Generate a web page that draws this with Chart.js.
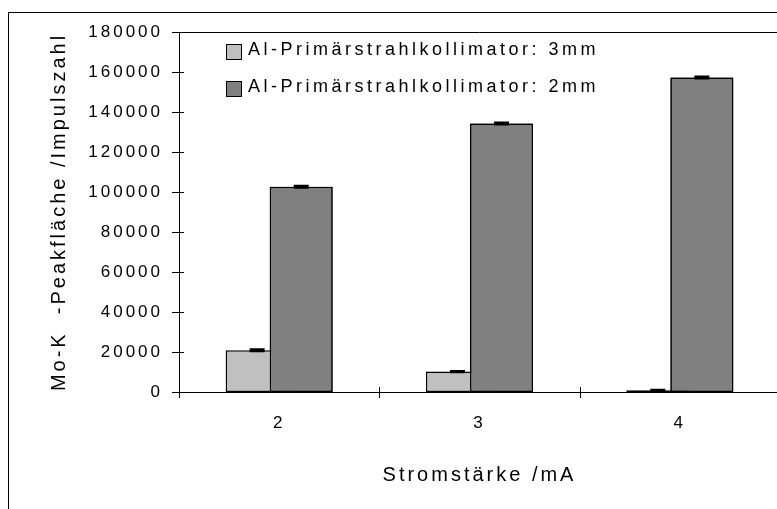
<!DOCTYPE html>
<html>
<head>
<meta charset="utf-8">
<script src="https://cdn.jsdelivr.net/npm/chart.js@4/dist/chart.umd.min.js"></script>
<style>
  html, body { margin: 0; padding: 0; background: #fff; overflow: hidden; }
  #wrap { width: 790px; height: 509px; }
</style>
</head>
<body>
<div id="wrap"><canvas id="c" width="790" height="509"></canvas></div>
<script>
// ---- data ----
const categories = ['2', '3', '4'];
const seriesLabels = ['Al-Primärstrahlkollimator: 3mm', 'Al-Primärstrahlkollimator: 2mm'];
const values3mm = [20900, 10200, 900];
const values2mm = [102600, 134300, 157300];
const errors3mm = [500, 300, 200];
const errors2mm = [500, 500, 500];
const yTicks = [0, 20000, 40000, 60000, 80000, 100000, 120000, 140000, 160000, 180000];
const xTitle = 'Stromstärke /mA';
const yTitle = 'Mo-K  -Peakfläche /Impulszahl';

const FONT = '"Liberation Sans", Arial, sans-serif';
const errorsByDataset = [errors3mm, errors2mm];

const framePlugin = {
  id: 'frame',
  beforeDraw(chart) {
    const ctx = chart.ctx;
    ctx.letterSpacing = '3px';
    // outer chart border
    ctx.save();
    ctx.strokeStyle = '#000';
    ctx.lineWidth = 1;
    ctx.strokeRect(8.5, 12.5, chart.width + 20, chart.height + 20);
    ctx.restore();
  },
  afterDatasetsDraw(chart) {
    // dark series drawn in front of the light one (overlapping bars)
    chart.getDatasetMeta(1).controller.draw();
    const ctx = chart.ctx;
    const y = chart.scales.y;
    ctx.save();
    ctx.strokeStyle = '#000';
    chart.data.datasets.forEach((ds, di) => {
      const meta = chart.getDatasetMeta(di);
      const errs = errorsByDataset[di];
      meta.data.forEach((bar, i) => {
        const v = ds.data[i];
        const e = errs[i];
        const yt = y.getPixelForValue(v + e);
        const yb = y.getPixelForValue(v - e);
        const hw = 7.5;
        ctx.lineWidth = 2;
        ctx.beginPath();
        ctx.moveTo(bar.x, yt); ctx.lineTo(bar.x, yb);
        ctx.moveTo(bar.x - hw, yt); ctx.lineTo(bar.x + hw, yt);
        ctx.moveTo(bar.x - hw, yb); ctx.lineTo(bar.x + hw, yb);
        ctx.stroke();
      });
    });
    ctx.restore();
  },
  afterDraw(chart) {
    const ctx = chart.ctx;
    const a = chart.chartArea;
    const x = chart.scales.x;
    const y = chart.scales.y;
    ctx.save();
    ctx.strokeStyle = '#000';
    ctx.lineWidth = 1;
    // plot-area top border
    ctx.beginPath();
    ctx.moveTo(a.left, Math.round(a.top) + 0.5);
    ctx.lineTo(a.right, Math.round(a.top) + 0.5);
    ctx.stroke();
    // y tick marks crossing the axis
    ctx.beginPath();
    y.ticks.forEach(t => {
      const py = Math.round(y.getPixelForValue(t.value)) + 0.5;
      ctx.moveTo(a.left - 7, py); ctx.lineTo(a.left + 5, py);
    });
    // x tick marks at category boundaries
    const half = (x.getPixelForValue(1) - x.getPixelForValue(0)) / 2;
    for (let i = 0; i <= categories.length; i++) {
      const px = Math.round(x.getPixelForValue(i) - half) + 0.5;
      ctx.moveTo(px, a.bottom - 5); ctx.lineTo(px, a.bottom + 6);
    }
    ctx.stroke();
    // legend
    ctx.letterSpacing = '3.5px';
    ctx.font = '18px ' + FONT;
    ctx.textBaseline = 'middle';
    ctx.textAlign = 'left';
    const rows = [50, 87];
    chart.data.datasets.forEach((ds, di) => {
      const ry = rows[di];
      ctx.fillStyle = ds.backgroundColor;
      ctx.fillRect(226.5, ry - 5.5, 15, 15);
      ctx.lineWidth = 1;
      ctx.strokeStyle = '#000';
      ctx.strokeRect(226.5, ry - 5.5, 15, 15);
      ctx.fillStyle = '#000';
      ctx.fillText(ds.label, 248, ry);
    });
    ctx.restore();
  }
};

new Chart(document.getElementById('c'), {
  type: 'bar',
  data: {
    labels: categories,
    datasets: [
      { label: seriesLabels[0], data: values3mm, backgroundColor: '#C0C0C0',
        borderColor: '#000', borderWidth: 1.5, borderSkipped: false },
      { label: seriesLabels[1], data: values2mm, backgroundColor: '#808080',
        borderColor: '#000', borderWidth: 1.5, borderSkipped: false }
    ]
  },
  options: {
    responsive: false,
    animation: false,
    devicePixelRatio: 1,
    categoryPercentage: 0.44,
    barPercentage: 1.43,
    layout: { padding: { top: 32, left: 0, right: 10, bottom: 0 } },
    plugins: { legend: { display: false }, tooltip: { enabled: false } },
    scales: {
      x: {
        grid: { display: false, drawTicks: false },
        border: { display: true, color: '#000', width: 1 },
        ticks: { color: '#000', font: { family: FONT, size: 17 }, padding: 21, maxRotation: 0 },
        title: { display: true, text: xTitle, color: '#000', font: { family: FONT, size: 20 },
                 padding: { bottom: 22 } },
        afterFit(s) { s.height = 117; }
      },
      y: {
        min: 0, max: 180000,
        afterBuildTicks(s) { s.ticks = yTicks.map(v => ({ value: v })); },
        grid: { display: false, drawTicks: false },
        border: { display: true, color: '#000', width: 1 },
        ticks: { color: '#000', font: { family: FONT, size: 17 }, padding: 16,
                 callback: v => String(v) },
        title: { display: true, text: yTitle, color: '#000', font: { family: FONT, size: 20 },
                 padding: { top: 47 } },
        afterFit(s) { s.width = 179; }
      }
    }
  },
  plugins: [framePlugin]
});
</script>
</body>
</html>
